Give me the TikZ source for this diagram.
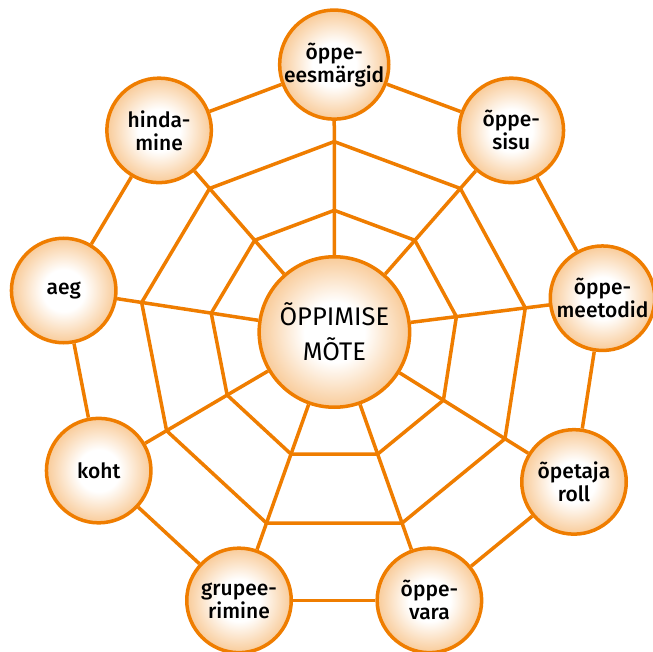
\documentclass[tikz,border=0pt]{standalone}
\usepackage{fontspec}
\setmainfont{Fira Sans}
\newfontfamily\labelfont{Fira Sans}[UprightFont=* Medium]
\usepackage{xcolor}
\definecolor{colorWeb}{RGB}{239,125,0}
\colorlet{colorFill}{colorWeb!40}
\usetikzlibrary{calc}
\pgfdeclareradialshading{ballShade}{\pgfpointorigin}{color(0bp)=(white); color(10bp)=(white); color(25bp)=(colorFill); color(50bp)=(colorFill)}
\tikzset{
  topic/.style={circle, draw=colorWeb, line width=3.5pt, shading=ballShade, minimum size=104.5pt, inner sep=0pt, align=center, text=black, font=\labelfont\fontsize{21}{23}\selectfont},
  core/.style={topic, minimum size=150.5pt, font=\fontsize{25.5}{35}\selectfont},
  web/.style={color=colorWeb, line width=3.5pt}
}

\begin{document}
\begin{tikzpicture}[x=1pt, y=-1pt]
\useasboundingbox (0,0) rectangle (653,652);
\node[core] (mote) at (334.4,332) {ÕPPIMISE\\MÕTE};
\node[topic] (eesm) at (334.2,64.6) {õppe-\\eesmärgid};
\node[topic] (sisu) at (511.3,130.4) {õppe-\\sisu};
\node[topic] (meet) at (602.5,298.2) {õppe-\\meetodid};
\node[topic] (roll) at (574,481.9) {õpetaja\\roll};
\node[topic] (vara) at (429.4,600.4) {õppe-\\vara};
\node[topic] (grup) at (239,600.4) {grupee-\\rimine};
\node[topic] (koht) at (98.7,470.6) {koht};
\node[topic] (aeg) at (63.7,290.5) {aeg};
\node[topic] (hind) at (159.1,130.4) {hinda-\\mine};
% points of the two inner rings, on the spokes
\coordinate (eesm1) at ($(mote.center)!0.455!(eesm.center)$);
\coordinate (sisu1) at ($(mote.center)!0.455!(sisu.center)$);
\coordinate (meet1) at ($(mote.center)!0.455!(meet.center)$);
\coordinate (roll1) at ($(mote.center)!0.455!(roll.center)$);
\coordinate (vara1) at ($(mote.center)!0.455!(vara.center)$);
\coordinate (grup1) at ($(mote.center)!0.455!(grup.center)$);
\coordinate (koht1) at ($(mote.center)!0.455!(koht.center)$);
\coordinate (aeg1) at ($(mote.center)!0.455!(aeg.center)$);
\coordinate (hind1) at ($(mote.center)!0.455!(hind.center)$);
\coordinate (eesm2) at ($(mote.center)!0.712!(eesm.center)$);
\coordinate (sisu2) at ($(mote.center)!0.712!(sisu.center)$);
\coordinate (meet2) at ($(mote.center)!0.712!(meet.center)$);
\coordinate (roll2) at ($(mote.center)!0.712!(roll.center)$);
\coordinate (vara2) at ($(mote.center)!0.712!(vara.center)$);
\coordinate (grup2) at ($(mote.center)!0.712!(grup.center)$);
\coordinate (koht2) at ($(mote.center)!0.712!(koht.center)$);
\coordinate (aeg2) at ($(mote.center)!0.712!(aeg.center)$);
\coordinate (hind2) at ($(mote.center)!0.712!(hind.center)$);
% spokes
\draw[web] (mote) edge (eesm) edge (sisu) edge (meet) edge (roll) edge (vara) edge (grup) edge (koht) edge (aeg) edge (hind);
% rings
\draw[web] (eesm1) -- (sisu1) -- (meet1) -- (roll1) -- (vara1) -- (grup1) -- (koht1) -- (aeg1) -- (hind1) -- cycle;
\draw[web] (eesm2) -- (sisu2) -- (meet2) -- (roll2) -- (vara2) -- (grup2) -- (koht2) -- (aeg2) -- (hind2) -- cycle;
\draw[web] (eesm) edge (sisu) (sisu) edge (meet) (meet) edge (roll) (roll) edge (vara) (vara) edge (grup) (grup) edge (koht) (koht) edge (aeg) (aeg) edge (hind) (hind) edge (eesm);
\end{tikzpicture}
\end{document}
